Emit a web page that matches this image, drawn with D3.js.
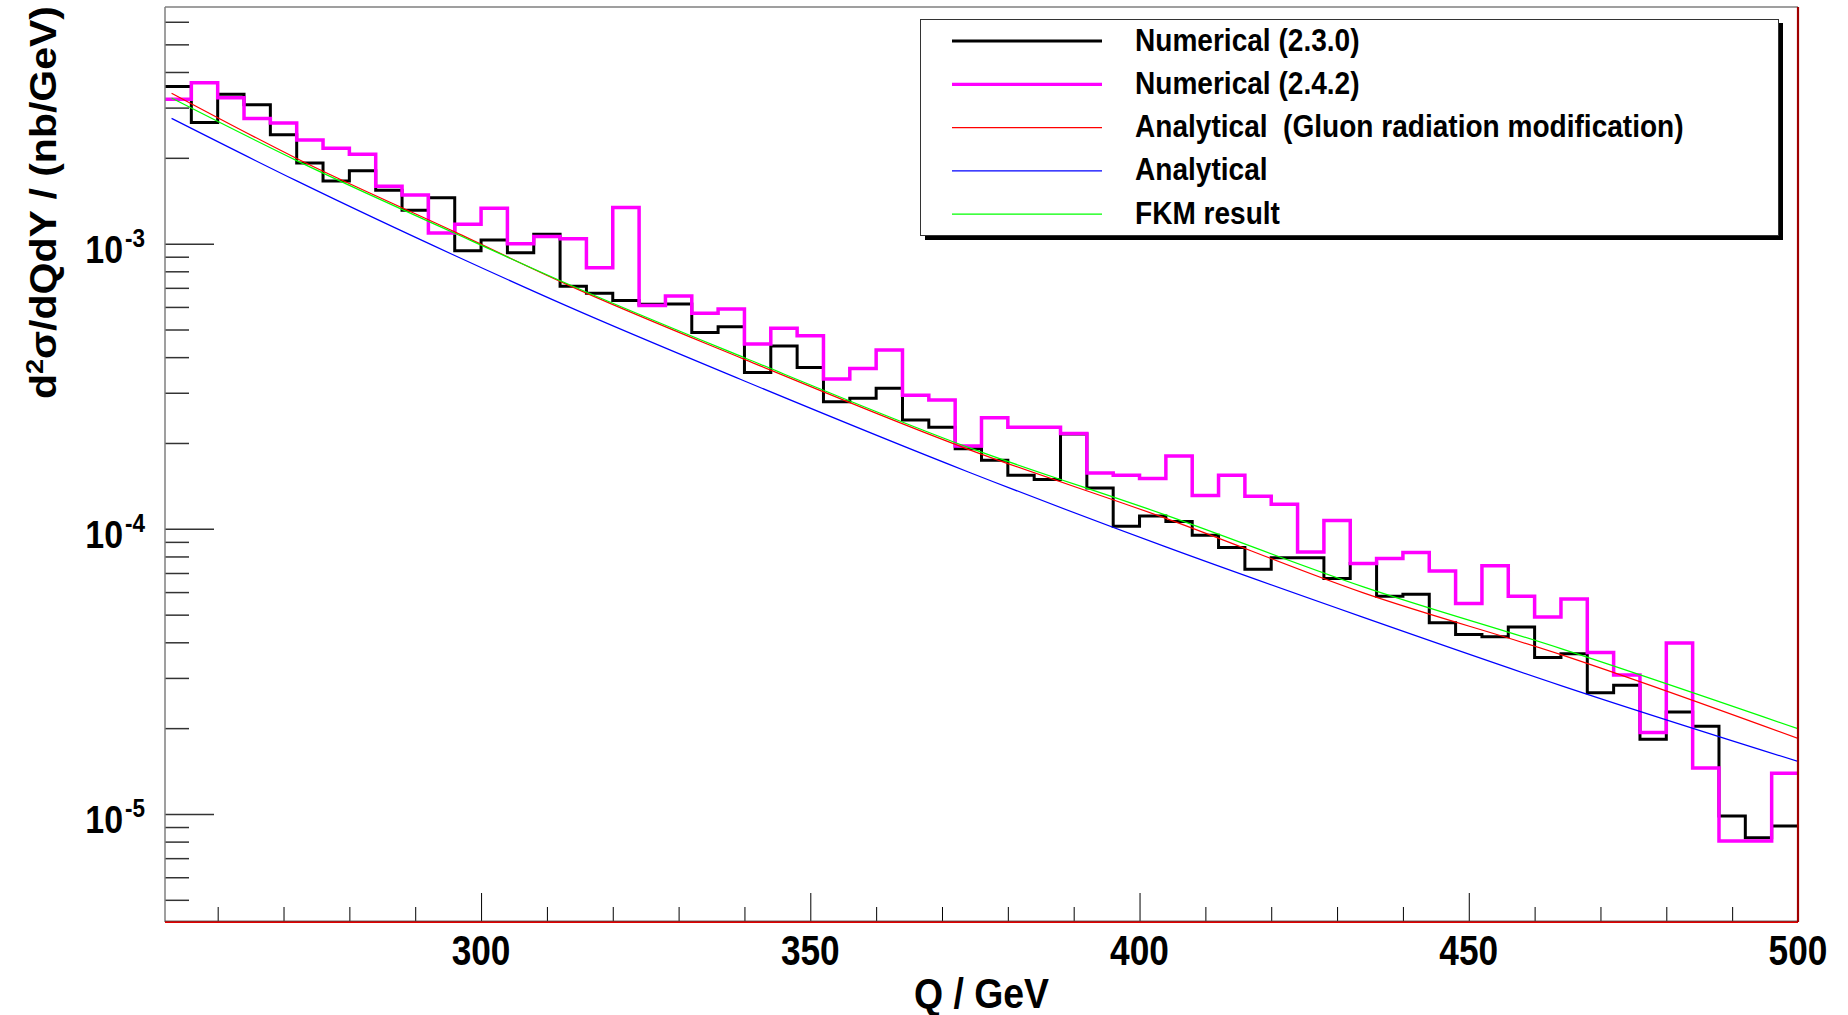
<!DOCTYPE html>
<html>
<head>
<meta charset="utf-8">
<script src="https://cdn.jsdelivr.net/npm/d3@7"></script>
<style>
html, body { margin: 0; padding: 0; background: #fff; }
svg { display: block; }
text { font-family: "Liberation Sans", Arial, Helvetica, sans-serif; font-weight: bold; fill: #000; white-space: pre; }
</style>
</head>
<body>
<script>
// bin edges of the two histograms (4 GeV bins from 252 to 500)
const binEdges = d3.range(252, 501, 4);

// Numerical (2.3.0), black histogram
const numerical230 = [
  3.56e-3, 2.66e-3, 3.34e-3, 3.07e-3, 2.41e-3, 1.92e-3, 1.66e-3, 1.80e-3, 1.54e-3, 1.31e-3,
  1.45e-3, 9.45e-4, 1.03e-3, 9.30e-4, 1.08e-3, 7.09e-4, 6.70e-4, 6.32e-4, 6.13e-4, 6.14e-4,
  4.88e-4, 5.11e-4, 3.53e-4, 4.38e-4, 3.68e-4, 2.79e-4, 2.87e-4, 3.11e-4, 2.41e-4, 2.27e-4,
  1.91e-4, 1.74e-4, 1.54e-4, 1.49e-4, 2.15e-4, 1.39e-4, 1.02e-4, 1.11e-4, 1.06e-4, 9.50e-5,
  8.60e-5, 7.22e-5, 7.91e-5, 7.91e-5, 6.70e-5, 7.56e-5, 5.80e-5, 5.89e-5, 4.68e-5, 4.26e-5,
  4.18e-5, 4.53e-5, 3.54e-5, 3.65e-5, 2.66e-5, 2.83e-5, 1.83e-5, 2.28e-5, 2.03e-5, 9.84e-6,
  8.26e-6, 9.08e-6
];

// Numerical (2.4.2), magenta histogram
const numerical242 = [
  3.21e-3, 3.67e-3, 3.25e-3, 2.75e-3, 2.65e-3, 2.31e-3, 2.16e-3, 2.06e-3, 1.59e-3, 1.48e-3,
  1.09e-3, 1.17e-3, 1.33e-3, 1.00e-3, 1.06e-3, 1.04e-3, 8.24e-4, 1.34e-3, 6.07e-4, 6.55e-4,
  5.70e-4, 5.90e-4, 4.45e-4, 5.05e-4, 4.75e-4, 3.35e-4, 3.65e-4, 4.24e-4, 2.94e-4, 2.83e-4,
  1.95e-4, 2.45e-4, 2.27e-4, 2.27e-4, 2.16e-4, 1.57e-4, 1.54e-4, 1.50e-4, 1.80e-4, 1.31e-4,
  1.54e-4, 1.30e-4, 1.22e-4, 8.30e-5, 1.07e-4, 7.56e-5, 7.87e-5, 8.26e-5, 7.11e-5, 5.47e-5,
  7.42e-5, 5.80e-5, 4.91e-5, 5.67e-5, 3.68e-5, 3.07e-5, 1.93e-5, 3.98e-5, 1.45e-5, 8.04e-6,
  8.04e-6, 1.39e-5
];

// smooth curves, read at these Q values
const curveQ = [253, 272, 296, 313, 340, 374, 404, 434, 464, 500];
const analyticalGluon = [3.37e-3, 1.99e-3, 1.10e-3, 7.20e-4, 3.93e-4, 1.90e-4, 1.088e-4, 5.96e-5, 3.62e-5, 1.84e-5];
const analytical = [2.75e-3, 1.66e-3, 9.09e-4, 6.05e-4, 3.30e-4, 1.583e-4, 8.64e-5, 4.89e-5, 2.82e-5, 1.528e-5];
const fkm = [3.24e-3, 1.955e-3, 1.088e-3, 7.25e-4, 3.98e-4, 1.93e-4, 1.117e-4, 6.26e-5, 3.80e-5, 1.99e-5];

const xMajorTicks = [300, 350, 400, 450, 500];
const yDecades = [1e-5, 1e-4, 1e-3];

const legendEntries = [
  {label: "Numerical (2.3.0)", color: "#000000", width: 3.2},
  {label: "Numerical (2.4.2)", color: "#ff00ff", width: 3.2},
  {label: "Analytical  (Gluon radiation modification)", color: "#ff0000", width: 1.2},
  {label: "Analytical", color: "#0000ff", width: 1.2},
  {label: "FKM result", color: "#00ff00", width: 1.2}
];

const width = 1848;
const height = 1015;
const marginTop = 7;
const marginRight = 50;
const marginBottom = 93;
const marginLeft = 165;

const x = d3.scaleLinear()
    .domain([252, 500])
    .range([marginLeft, width - marginRight]);

const y = d3.scaleLog()
    .domain([4.18e-6, 6.76e-3])
    .range([height - marginBottom, marginTop]);

const svg = d3.select("body")
    .append("svg")
    .attr("width", width)
    .attr("height", height)
    .attr("viewBox", [0, 0, width, height]);

svg.append("defs").append("clipPath")
    .attr("id", "plot-clip")
    .append("rect")
    .attr("x", marginLeft)
    .attr("y", marginTop)
    .attr("width", width - marginLeft - marginRight)
    .attr("height", height - marginTop - marginBottom);

// text squeezed horizontally like the original picture
function sqText(parent, px, py, k, size, anchor, str) {
    return parent.append("text")
        .attr("transform", `translate(${px},${py}) scale(${k},1)`)
        .attr("font-size", size)
        .attr("text-anchor", anchor)
        .text(str);
}

// histograms
function histPoints(vals) {
    const pts = vals.map((v, i) => [binEdges[i], v]);
    pts.push([binEdges[vals.length], vals[vals.length - 1]]);
    return pts;
}

const stepLine = d3.line()
    .x(d => x(d[0]))
    .y(d => y(d[1]))
    .curve(d3.curveStepAfter);

const plot = svg.append("g").attr("clip-path", "url(#plot-clip)");

plot.append("path")
    .attr("d", stepLine(histPoints(numerical230)))
    .attr("fill", "none")
    .attr("stroke", "#000")
    .attr("stroke-width", 3);

plot.append("path")
    .attr("d", stepLine(histPoints(numerical242)))
    .attr("fill", "none")
    .attr("stroke", "#ff00ff")
    .attr("stroke-width", 3.5);

// curves
const smoothLine = d3.line()
    .x(d => x(d[0]))
    .y(d => y(d[1]))
    .curve(d3.curveMonotoneX);

[[analyticalGluon, "#ff0000"], [analytical, "#0000ff"], [fkm, "#00ff00"]].forEach(([vals, c]) => {
    plot.append("path")
        .attr("d", smoothLine(curveQ.map((q, i) => [q, vals[i]])))
        .attr("fill", "none")
        .attr("stroke", c)
        .attr("stroke-width", 1.2);
});

// y axis ticks (drawn inside the frame)
const yMinor = y.ticks().filter(t => !yDecades.includes(t));
svg.append("g")
    .attr("transform", `translate(${marginLeft},0)`)
    .call(d3.axisLeft(y).tickValues(yMinor).tickSize(-24).tickFormat(""))
    .call(g => g.select(".domain").remove())
    .call(g => g.selectAll("line").attr("stroke", "#333").attr("stroke-width", 1.5));

svg.append("g")
    .attr("transform", `translate(${marginLeft},0)`)
    .call(d3.axisLeft(y).tickValues(yDecades).tickSize(-49).tickFormat(""))
    .call(g => g.select(".domain").remove())
    .call(g => g.selectAll("line").attr("stroke", "#333").attr("stroke-width", 1.5));

// x axis ticks
const xMinor = x.ticks(25).filter(t => !xMajorTicks.includes(t) && t % 10 === 0);
svg.append("g")
    .attr("transform", `translate(0,${height - marginBottom})`)
    .call(d3.axisBottom(x).tickValues(xMinor).tickSize(-15).tickFormat(""))
    .call(g => g.select(".domain").remove())
    .call(g => g.selectAll("line").attr("stroke", "#000").attr("stroke-width", 1));

svg.append("g")
    .attr("transform", `translate(0,${height - marginBottom})`)
    .call(d3.axisBottom(x).tickValues(xMajorTicks).tickSize(-29).tickFormat(""))
    .call(g => g.select(".domain").remove())
    .call(g => g.selectAll("line").attr("stroke", "#000").attr("stroke-width", 1));

// frame
const x0 = marginLeft, x1 = width - marginRight;
const y0 = marginTop, y1 = height - marginBottom;
svg.append("line").attr("x1", x0).attr("x2", x1).attr("y1", y0).attr("y2", y0)
    .attr("stroke", "#7f7f7f").attr("stroke-width", 1.5);
svg.append("line").attr("x1", x0).attr("x2", x0).attr("y1", y0).attr("y2", y1)
    .attr("stroke", "#7f7f7f").attr("stroke-width", 1.5);
svg.append("line").attr("x1", x0).attr("x2", x1).attr("y1", y1).attr("y2", y1)
    .attr("stroke", "#e00000").attr("stroke-width", 2);
svg.append("line").attr("x1", x0).attr("x2", x1).attr("y1", y1 - 1).attr("y2", y1 - 1)
    .attr("stroke", "#444").attr("stroke-width", 0.8);
svg.append("line").attr("x1", x1).attr("x2", x1).attr("y1", y0).attr("y2", y1)
    .attr("stroke", "#a00000").attr("stroke-width", 2.2);

// tick labels
const xLabels = svg.append("g");
xMajorTicks.forEach(t => sqText(xLabels, x(t), 965, 0.84, 42, "middle", String(t)));

const yLabels = svg.append("g");
yDecades.forEach(t => {
    const exp = Math.round(Math.log10(t));
    sqText(yLabels, 123, y(t) + 19.5, 0.87, 39, "end", "10");
    sqText(yLabels, 125, y(t) + 3, 0.9, 25, "start", String(exp));
});

// axis titles
sqText(svg, 1049, 1008, 0.89, 42, "end", "Q / GeV");

const yTitle = svg.append("text")
    .attr("transform", "translate(56,6) scale(0.88,1) rotate(-90)")
    .attr("font-size", 41)
    .attr("text-anchor", "end");
yTitle.append("tspan").text("d");
yTitle.append("tspan").attr("font-size", 27).attr("dy", -15).text("2");
yTitle.append("tspan").attr("dy", 15).text("σ/dQdY / (nb/GeV)");

// legend
const legend = svg.append("g");
legend.append("rect")
    .attr("x", 925).attr("y", 23).attr("width", 858).attr("height", 217)
    .attr("fill", "#000");
legend.append("rect")
    .attr("x", 920.5).attr("y", 19.5).attr("width", 858).attr("height", 216)
    .attr("fill", "#fff").attr("stroke", "#333").attr("stroke-width", 1);

legendEntries.forEach((e, i) => {
    const ly = 41 + i * 43.3;
    legend.append("line")
        .attr("x1", 952).attr("x2", 1102).attr("y1", ly).attr("y2", ly)
        .attr("stroke", e.color).attr("stroke-width", e.width);
    sqText(legend, 1135, ly + 9.5, 0.92, 30.5, "start", e.label);
});
</script>
</body>
</html>
